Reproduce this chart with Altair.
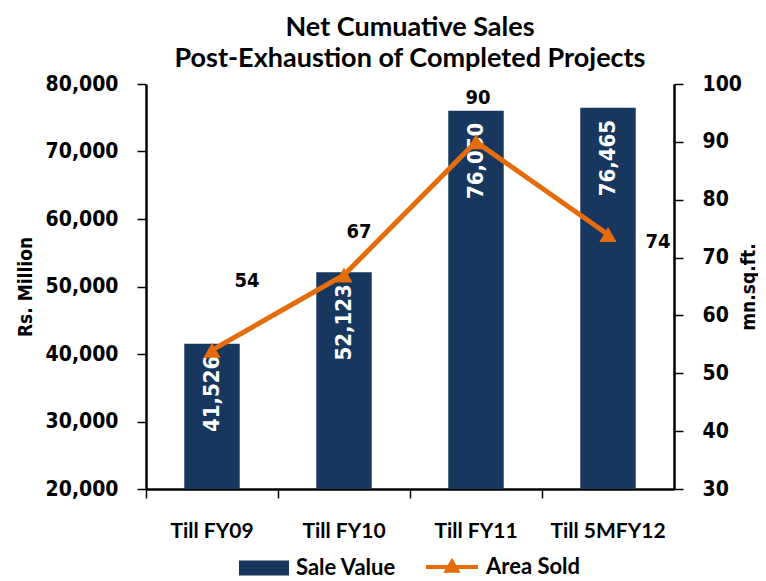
import altair as alt
import pandas as pd

categories = ["Till FY09", "Till FY10", "Till FY11", "Till 5MFY12"]
sale_value = [41526, 52123, 76050, 76465]
area_sold = [54, 67, 90, 74]
left_ticks = [20000, 30000, 40000, 50000, 60000, 70000, 80000]
right_ticks = [30, 40, 50, 60, 70, 80, 90, 100]
title_lines = ["Net Cumuative Sales", "Post-Exhaustion of Completed Projects"]
left_title = "Rs. Million"
right_title = "mn.sq.ft."
bar_series = "Sale Value"
line_series = "Area Sold"

NAVY = "#17375E"
ORANGE = "#E46C0A"
TEXT_FONT = "Lato"
NUM_FONT = "DejaVu Sans Condensed"

df = pd.DataFrame({"category": categories, "sale": sale_value, "area": area_sold})

W, H = 528, 405

x_enc = alt.X(
    "category:N",
    sort=categories,
    scale=alt.Scale(paddingInner=0, paddingOuter=0),
    axis=alt.Axis(
        title=None,
        bandPosition=0,
        labelOffset=0,
        labelPadding=22,
        tickSize=9,
        tickColor="black",
        tickWidth=1.5,
        domainColor="black",
        domainWidth=2.5,
        labelFont=TEXT_FONT,
        labelFontWeight="bold",
        labelFontSize=21,
        labelColor="black",
        labelAngle=0,
        grid=False,
    ),
)

y_left = alt.Y(
    "sale:Q",
    scale=alt.Scale(domain=[left_ticks[0], left_ticks[-1]], zero=False, nice=False),
    axis=alt.Axis(
        title=left_title,
        values=left_ticks,
        labelExpr="format(datum.value, ',')",
        tickSize=9,
        tickColor="black",
        tickWidth=1.5,
        domainColor="black",
        domainWidth=2.5,
        labelPadding=19,
        labelFont=NUM_FONT,
        labelFontWeight="bold",
        labelFontSize=21,
        labelColor="black",
        titleFont=NUM_FONT,
        titleFontWeight="bold",
        titleFontSize=19,
        titleColor="black",
        titlePadding=10,
        grid=False,
    ),
)

bars = alt.Chart(df).transform_calculate(series=f"'{bar_series}'").mark_bar(
    width=alt.RelativeBandSize(0.42)
).encode(
    x=x_enc,
    y=y_left,
    y2=alt.datum(left_ticks[0]),
    color=alt.Color(
        "series:N",
        scale=alt.Scale(domain=[bar_series], range=[NAVY]),
        legend=alt.Legend(
            title=None,
            orient="none",
            legendX=92,
            legendY=458,
            symbolType="M-1,-0.3H1V0.3H-1Z",
            symbolSize=2500,
            symbolOpacity=1,
            labelFont=TEXT_FONT,
            labelFontWeight="bold",
            labelFontSize=22,
            labelColor="black",
            labelOffset=6,
        ),
    ),
)

bar_text = alt.Chart(df).mark_text(
    angle=270, align="right", baseline="middle", dx=-12, color="white",
    font=NUM_FONT, fontWeight="bold", fontSize=22,
).encode(x=x_enc, y=y_left, text=alt.Text("sale:Q", format=","))

left_layer = alt.layer(bars, bar_text)

y_right = alt.Y(
    "area:Q",
    scale=alt.Scale(domain=[right_ticks[0], right_ticks[-1]], zero=False, nice=False),
    axis=alt.Axis(
        title=right_title,
        orient="right",
        values=right_ticks,
        tickSize=9,
        tickColor="black",
        tickWidth=1.5,
        domainColor="black",
        domainWidth=2.5,
        labelPadding=19,
        labelFont=NUM_FONT,
        labelFontWeight="bold",
        labelFontSize=21,
        labelColor="black",
        titleFont=NUM_FONT,
        titleFontWeight="bold",
        titleFontSize=19,
        titleColor="black",
        titleAngle=270,
        titlePadding=17,
        grid=False,
    ),
)

line = alt.Chart(df).transform_calculate(series2=f"'{line_series}'").mark_line(strokeWidth=5).encode(
    x=x_enc,
    y=y_right,
    stroke=alt.Stroke(
        "series2:N",
        scale=alt.Scale(domain=[line_series], range=[ORANGE]),
        legend=alt.Legend(
            title=None,
            orient="none",
            legendX=278,
            legendY=455,
            symbolType="M-1,0H1M-0.2,0.14L0,-0.2L0.2,0.14Z",
            symbolSize=2700,
            symbolStrokeWidth=4,
            symbolFillColor=ORANGE,
            labelFont=TEXT_FONT,
            labelFontWeight="bold",
            labelFontSize=22,
            labelColor="black",
            labelOffset=6,
        ),
    ),
)

points = alt.Chart(df).mark_point(shape="triangle-up", filled=True, size=300, color=ORANGE, opacity=1).encode(
    x=x_enc, y=y_right
)

label_offsets = {
    "Till FY09": (35, -69),
    "Till FY10": (15, -43),
    "Till FY11": (2, -44),
    "Till 5MFY12": (50, 8),
}
line_labels = []
for cat in categories:
    dx, dy = label_offsets[cat]
    line_labels.append(
        alt.Chart(df).transform_filter(alt.datum.category == cat).mark_text(
            dx=dx, dy=dy, color="black", font=NUM_FONT, fontWeight="bold", fontSize=20,
        ).encode(x=x_enc, y=y_right, text=alt.Text("area:Q"))
    )

right_layer = alt.layer(line, points, *line_labels)

chart = alt.layer(left_layer, right_layer).resolve_scale(y="independent").properties(
    width=W,
    height=H,
    title=alt.TitleParams(
        title_lines[0],
        subtitle=title_lines[1],
        font=TEXT_FONT,
        fontWeight="bold",
        fontSize=27,
        color="black",
        subtitleFont=TEXT_FONT,
        subtitleFontWeight="bold",
        subtitleFontSize=27,
        subtitleColor="black",
        subtitlePadding=4,
        anchor="middle",
        offset=0,
    ),
    autosize=alt.AutoSizeParams(type="none"),
    padding={"left": 138, "top": 76, "right": 84, "bottom": 92},
    background="white",
).configure_view(stroke=None)

chart.save("out.html", embed_options={"renderer": "svg", "actions": False})
